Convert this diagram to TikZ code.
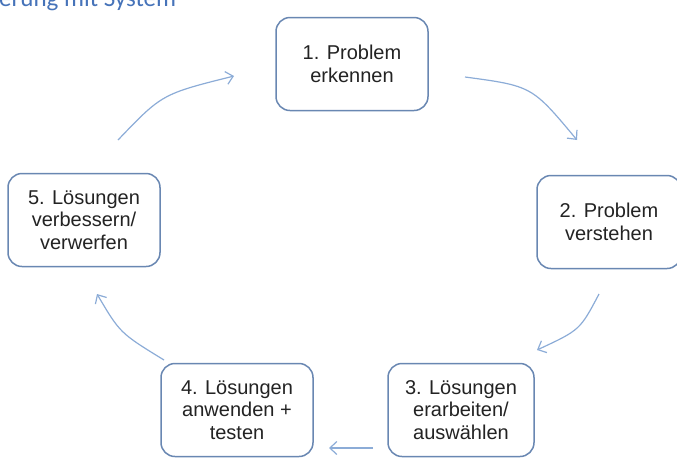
\documentclass[tikz,border=0pt]{standalone}
\usepackage{fontspec}
\setmainfont{Liberation Sans}
\newfontfamily\headfont{Carlito}
\usetikzlibrary{arrows.meta}
\definecolor{boxline}{RGB}{105,135,178}
\definecolor{arrowblue}{RGB}{140,172,215}
\definecolor{txt}{RGB}{35,35,35}
\definecolor{headblue}{RGB}{70,115,185}
\tikzset{
  stepbox/.style={draw=boxline, line width=1.5pt, rounded corners=14pt, fill=white,
    minimum width=152pt, minimum height=93pt, align=center, text=txt,
    font=\fontsize{20}{22.5}\selectfont, inner sep=0pt},
  cyc/.style={draw=arrowblue, line width=1.2pt, -{Straight Barb[length=7pt,width=13pt]}}
}
\begin{document}
\begin{tikzpicture}[x=1pt,y=-1pt]
\useasboundingbox (0,0) rectangle (677,459);
\clip (0,0) rectangle (677,459);
\node[anchor=base west, inner sep=0pt, text=headblue, font=\headfont\fontsize{25}{28}\selectfont] (head) at (-1,6) {erung mit System};
\node[stepbox] (s1) at (352,64) {1. Problem\\erkennen};
\node[stepbox, minimum width=144pt] (s2) at (609,222) {2. Problem\\verstehen};
\node[stepbox, minimum width=146pt] (s3) at (461,410) {3. Lösungen\\erarbeiten/\\auswählen};
\node[stepbox] (s4) at (237,410) {4. Lösungen\\anwenden +\\testen};
\node[stepbox] (s5) at (84,220) {5. Lösungen\\verbessern/\\verwerfen};
\coordinate (a1s) at (118,140);
\coordinate (a1e) at (234,76);
\coordinate (a2s) at (465,77);
\coordinate (a2e) at (577,140);
\coordinate (a3s) at (599,294);
\coordinate (a3e) at (537,350);
\coordinate (a4s) at (373,448);
\coordinate (a4e) at (329,448);
\coordinate (a5s) at (164,360);
\coordinate (a5e) at (97,294);
\draw[cyc] (a1s) .. controls (162,94) .. (a1e);
\draw[cyc] (a2s) .. controls (532,86) .. (a2e);
\draw[cyc] (a3s) .. controls (580,330) .. (a3e);
\draw[cyc] (a4s) -- (a4e);
\draw[cyc] (a5s) .. controls (120,333) .. (a5e);
\end{tikzpicture}
\end{document}
